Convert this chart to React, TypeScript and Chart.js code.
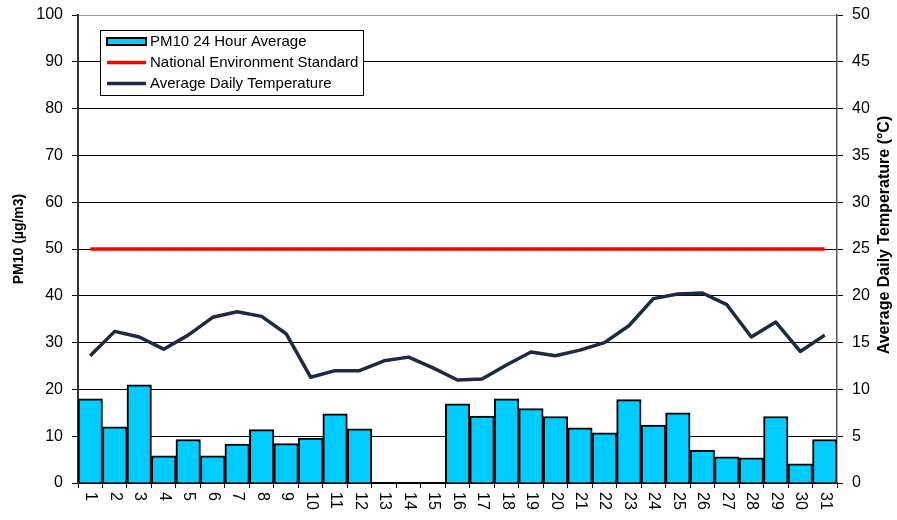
import React, { useEffect, useRef } from 'react';
import { Chart, registerables } from 'chart.js';

Chart.register(...registerables);

const days = ['1','2','3','4','5','6','7','8','9','10','11','12','13','14','15','16','17','18','19','20','21','22','23','24','25','26','27','28','29','30','31'];

const pm10 = [18.0, 12.0, 21.0, 5.8, 9.3, 5.8, 8.3, 11.4, 8.4, 9.6, 14.8, 11.6, null, null, null, 16.9, 14.3, 18.0, 15.9, 14.2, 11.8, 10.7, 17.8, 12.4, 15.0, 7.0, 5.6, 5.4, 14.2, 4.1, 9.3];

const standard = [50, 50, 50, 50, 50, 50, 50, 50, 50, 50, 50, 50, 50, 50, 50, 50, 50, 50, 50, 50, 50, 50, 50, 50, 50, 50, 50, 50, 50, 50, 50];

const temperature = [13.6, 16.2, 15.6, 14.3, 15.8, 17.7, 18.3, 17.8, 15.95, 11.3, 12.0, 12.0, 13.05, 13.45, 12.3, 11.0, 11.1, 12.6, 14.0, 13.6, 14.2, 15.0, 16.8, 19.7, 20.2, 20.3, 19.05, 15.6, 17.2, 14.05, 15.8];

const seriesNames = ['PM10 24 Hour Average', 'National Environment Standard', 'Average Daily Temperature'];
const leftTitle = 'PM10 (µg/m3)';
const rightTitle = 'Average Daily Temperature (°C)';

const FONT = "'Liberation Sans', Arial, sans-serif";
const BAR_COLOR = '#00CCFF';
const RED = '#FF0000';
const NAVY = '#1B2A45';

const decorPlugin = {
  id: 'decor',
  afterDraw(chart: any) {
    const ctx = chart.ctx as CanvasRenderingContext2D;
    const xs = chart.scales.x;
    const area = chart.chartArea;
    ctx.save();
    // x labels rotated clockwise
    ctx.fillStyle = '#000';
    ctx.font = `16px ${FONT}`;
    ctx.textAlign = 'left';
    ctx.textBaseline = 'middle';
    const labels = chart.data.labels as string[];
    labels.forEach((lab, i) => {
      const px = xs.getPixelForTick(i);
      ctx.save();
      ctx.translate(px + 0.5, area.bottom + 9);
      ctx.rotate(Math.PI / 2);
      ctx.fillText(lab, 0, 0);
      ctx.restore();
    });
    // axis titles
    ctx.font = `bold 14px ${FONT}`;
    ctx.textAlign = 'center';
    ctx.textBaseline = 'middle';
    ctx.save();
    ctx.translate(19, 239);
    ctx.rotate(-Math.PI / 2);
    ctx.fillText(leftTitle, 0, 0);
    ctx.restore();
    ctx.font = `bold 16px ${FONT}`;
    ctx.save();
    ctx.translate(885, 235);
    ctx.rotate(-Math.PI / 2);
    ctx.fillText(rightTitle, 0, 0);
    ctx.restore();

    // legend box
    const bx = 100.5, by = 30.5, bw = 263, bh = 65;
    ctx.fillStyle = '#fff';
    ctx.fillRect(bx, by, bw, bh);
    ctx.strokeStyle = '#000';
    ctx.lineWidth = 1;
    ctx.strokeRect(bx, by, bw, bh);
    const rowY = [41.5, 62.5, 83.5];
    const sx0 = 107, sx1 = 146;
    ctx.fillStyle = BAR_COLOR;
    ctx.fillRect(sx0, rowY[0] - 3.5, sx1 - sx0, 7);
    ctx.strokeStyle = '#000';
    ctx.lineWidth = 2;
    ctx.strokeRect(sx0, rowY[0] - 3.5, sx1 - sx0, 7);
    ctx.lineWidth = 3.5;
    ctx.strokeStyle = RED;
    ctx.beginPath(); ctx.moveTo(sx0, rowY[1]); ctx.lineTo(sx1, rowY[1]); ctx.stroke();
    ctx.strokeStyle = NAVY;
    ctx.beginPath(); ctx.moveTo(sx0, rowY[2]); ctx.lineTo(sx1, rowY[2]); ctx.stroke();
    ctx.fillStyle = '#000';
    ctx.font = `15px ${FONT}`;
    ctx.textAlign = 'left';
    ctx.textBaseline = 'middle';
    seriesNames.forEach((n, i) => ctx.fillText(n, 150, rowY[i] + 0.5));
    ctx.restore();
  },
};

export default function App() {
  const ref = useRef<HTMLCanvasElement | null>(null);
  useEffect(() => {
    const canvas = ref.current;
    if (!canvas) return;
    const chart = new Chart(canvas, {
      type: 'bar',
      data: {
        labels: days,
        datasets: [
          {
            type: 'bar',
            label: seriesNames[0],
            data: pm10,
            backgroundColor: BAR_COLOR,
            borderColor: '#000',
            borderWidth: 2,
            barPercentage: 1,
            categoryPercentage: 1,
            yAxisID: 'y',
            order: 3,
          } as any,
          {
            type: 'line',
            label: seriesNames[1],
            data: standard,
            borderColor: RED,
            borderWidth: 3.5,
            pointRadius: 0,
            yAxisID: 'y',
            order: 2,
          } as any,
          {
            type: 'line',
            label: seriesNames[2],
            data: temperature,
            borderColor: NAVY,
            borderWidth: 3.5,
            pointRadius: 0,
            tension: 0,
            borderJoinStyle: 'round',
            yAxisID: 'y1',
            order: 1,
          } as any,
        ],
      },
      options: {
        animation: false,
        responsive: false,
        layout: { padding: { top: 15, left: 0, right: 0, bottom: 0 } },
        plugins: { legend: { display: false }, tooltip: { enabled: false } },
        scales: {
          x: {
            type: 'category',
            offset: true,
            ticks: { display: false },
            grid: { offset: true, drawOnChartArea: false, drawTicks: true, tickLength: 5, color: '#000', lineWidth: 1 },
            border: { color: '#000', width: 2 },
            afterFit: (s: any) => { s.height = 37; s.paddingLeft = 0; s.paddingRight = 0; },
          },
          y: {
            position: 'left',
            min: 0,
            max: 100,
            ticks: { stepSize: 10, color: '#000', font: { family: FONT, size: 16 }, padding: 9 },
            grid: {
              color: (c: any) => (c.tick && c.tick.value === 100 ? '#999' : '#000'),
              lineWidth: 1,
              tickLength: 6,
              tickColor: '#000',
            },
            border: { color: '#333', width: 2 },
            afterFit: (s: any) => { s.width = 78; s.paddingTop = 0; s.paddingBottom = 0; },
          },
          y1: {
            position: 'right',
            min: 0,
            max: 50,
            ticks: { stepSize: 5, color: '#000', font: { family: FONT, size: 16 }, padding: 9 },
            grid: { drawOnChartArea: false, tickLength: 6, color: '#000' },
            border: { color: '#555', width: 1.5 },
            afterFit: (s: any) => { s.width = 60; s.paddingTop = 0; s.paddingBottom = 0; },
          },
        },
      },
      plugins: [decorPlugin],
    });
    return () => chart.destroy();
  }, []);
  return (
    <div style={{ position: 'fixed', left: 0, top: 0, width: 897, height: 520, background: '#fff' }}>
      <canvas ref={ref} width={897} height={520} style={{ width: 897, height: 520, display: 'block' }} />
    </div>
  );
}
